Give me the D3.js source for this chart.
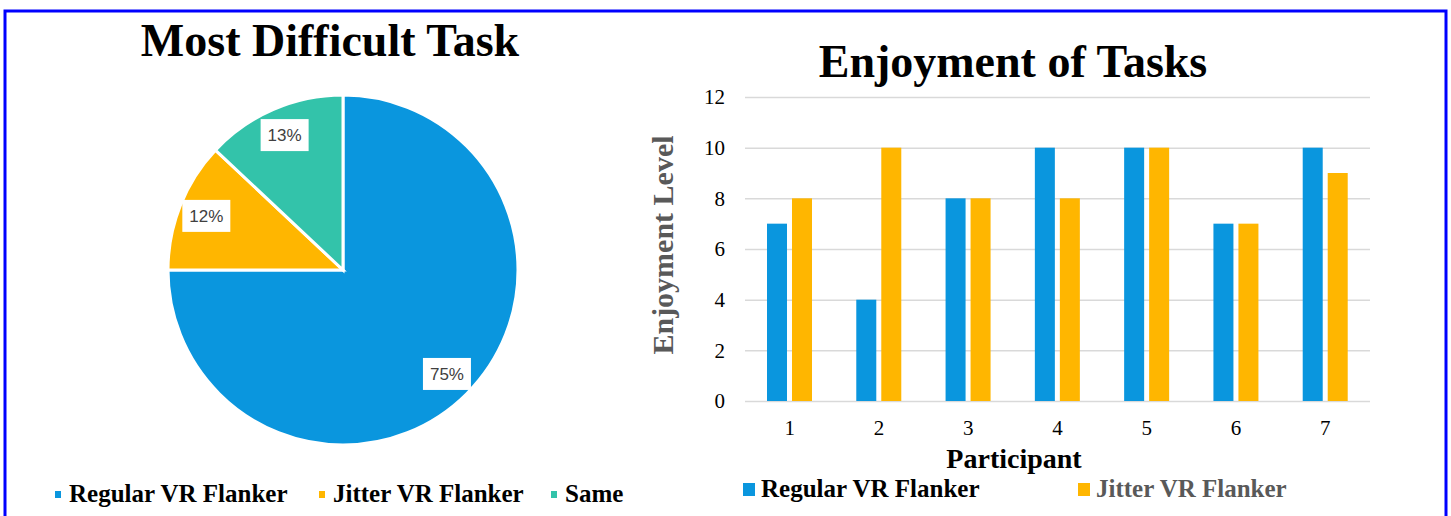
<!DOCTYPE html>
<html>
<head>
<meta charset="utf-8">
<script src="https://cdn.jsdelivr.net/npm/d3@7"></script>
<style>
  body { margin: 0; background: #fff; }
  svg { display: block; }
</style>
</head>
<body>
<svg id="chart"></svg>
<script>
// pie data
const pieCategories = ["Regular VR Flanker", "Jitter VR Flanker", "Same"];
const pieValues = [75, 12, 13];
const pieLabels = ["75%", "12%", "13%"];

// bar data
const participants = ["1", "2", "3", "4", "5", "6", "7"];
const seriesNames = ["Regular VR Flanker", "Jitter VR Flanker"];
const regularValues = [7, 4, 8, 10, 10, 7, 10];
const jitterValues = [8, 10, 8, 8, 10, 7, 9];
const yTicks = [0, 2, 4, 6, 8, 10, 12];

const colors = ["#0a96de", "#ffb600", "#33c3aa"];
const serif = "'Liberation Serif', 'Times New Roman', serif";

const W = 1451, H = 516;
const svg = d3.select("#chart").attr("width", W).attr("height", H);

// outer blue frame
svg.append("rect")
  .attr("x", 5).attr("y", 11)
  .attr("width", 1441).attr("height", 530)
  .attr("fill", "none")
  .attr("stroke", "#0000ff")
  .attr("stroke-width", 3);

// ---------- pie ----------
svg.append("text")
  .attr("x", 330).attr("y", 56)
  .attr("text-anchor", "middle")
  .style("font-family", serif)
  .style("font-weight", "bold")
  .style("font-size", "46px")
  .text("Most Difficult Task");

const radius = 175;
const pieG = svg.append("g").attr("transform", "translate(343,270)");

const pie = d3.pie().sort(null).value(d => d);
const arc = d3.arc().innerRadius(0).outerRadius(radius);
const labelArc = d3.arc().innerRadius(radius * 0.84).outerRadius(radius * 0.84);
const arcs = pie(pieValues);

pieG.selectAll("path")
  .data(arcs)
  .enter()
  .append("path")
  .attr("d", arc)
  .attr("fill", (d, i) => colors[i])
  .attr("stroke", "#fff")
  .attr("stroke-width", 3);

const lab = pieG.selectAll("g.lab")
  .data(arcs)
  .enter()
  .append("g")
  .attr("class", "lab")
  .attr("transform", d => `translate(${labelArc.centroid(d)})`);

lab.append("rect")
  .attr("x", -24).attr("y", -16)
  .attr("width", 48).attr("height", 32)
  .attr("fill", "#fff");

lab.append("text")
  .attr("text-anchor", "middle")
  .attr("dy", "0.36em")
  .style("font-family", "'Liberation Sans', Arial, sans-serif")
  .style("font-size", "17px")
  .style("fill", "#404040")
  .text((d, i) => pieLabels[i]);

// pie legend
const pieLegendX = [55, 319, 551];
const pl = svg.selectAll("g.pl")
  .data(pieCategories)
  .enter()
  .append("g")
  .attr("class", "pl")
  .attr("transform", (d, i) => `translate(${pieLegendX[i]},502)`);
pl.append("rect")
  .attr("x", 0).attr("y", -11)
  .attr("width", 6).attr("height", 7)
  .attr("fill", (d, i) => colors[i]);
pl.append("text")
  .attr("x", 14)
  .style("font-family", serif)
  .style("font-weight", "bold")
  .style("font-size", "25px")
  .text(d => d);

// ---------- bars ----------
svg.append("text")
  .attr("x", 1013).attr("y", 77)
  .attr("text-anchor", "middle")
  .style("font-family", serif)
  .style("font-weight", "bold")
  .style("font-size", "46px")
  .text("Enjoyment of Tasks");

const x = d3.scaleBand().domain(participants).range([745, 1370]);
const xSub = d3.scaleBand().domain(seriesNames).range([22, 67]).paddingInner(0.2);
const y = d3.scaleLinear().domain([0, 12]).range([401, 97]);

const yAxis = svg.append("g")
  .attr("transform", "translate(745,0)")
  .call(d3.axisLeft(y).tickValues(yTicks).tickSize(-625).tickPadding(20));
yAxis.select(".domain").remove();
yAxis.selectAll(".tick line").attr("stroke", "#d9d9d9").attr("stroke-width", 1.5);
yAxis.selectAll(".tick text")
  .style("font-family", serif)
  .style("font-size", "21px")
  .style("fill", "#000");

const xAxis = svg.append("g")
  .attr("transform", "translate(0,401)")
  .call(d3.axisBottom(x).tickSize(0).tickPadding(19));
xAxis.select(".domain").remove();
xAxis.selectAll(".tick text")
  .style("font-family", serif)
  .style("font-size", "21px")
  .style("fill", "#000");

const rows = participants.map((p, i) => ({ p, vals: [regularValues[i], jitterValues[i]] }));
const grp = svg.selectAll("g.grp")
  .data(rows)
  .enter()
  .append("g")
  .attr("class", "grp")
  .attr("transform", d => `translate(${x(d.p)},0)`);
grp.selectAll("rect")
  .data(d => d.vals.map((v, i) => ({ s: seriesNames[i], v, i })))
  .enter()
  .append("rect")
  .attr("x", d => xSub(d.s))
  .attr("y", d => y(d.v))
  .attr("width", xSub.bandwidth())
  .attr("height", d => y(0) - y(d.v))
  .attr("fill", d => colors[d.i]);

svg.append("text")
  .attr("transform", "translate(673,245) rotate(-90)")
  .attr("text-anchor", "middle")
  .style("font-family", serif)
  .style("font-weight", "bold")
  .style("font-size", "30px")
  .style("fill", "#595959")
  .text("Enjoyment Level");

svg.append("text")
  .attr("x", 1014).attr("y", 468)
  .attr("text-anchor", "middle")
  .style("font-family", serif)
  .style("font-weight", "bold")
  .style("font-size", "28px")
  .text("Participant");

const barLegendX = [743, 1078];
const legendColors = ["#000", "#595959"];
const bl = svg.selectAll("g.bl")
  .data(seriesNames)
  .enter()
  .append("g")
  .attr("class", "bl")
  .attr("transform", (d, i) => `translate(${barLegendX[i]},497)`);
bl.append("rect")
  .attr("x", 0).attr("y", -14)
  .attr("width", 12).attr("height", 13)
  .attr("fill", (d, i) => colors[i]);
bl.append("text")
  .attr("x", 18)
  .style("font-family", serif)
  .style("font-weight", "bold")
  .style("font-size", "25px")
  .style("fill", (d, i) => legendColors[i])
  .text(d => d);
</script>
</body>
</html>
